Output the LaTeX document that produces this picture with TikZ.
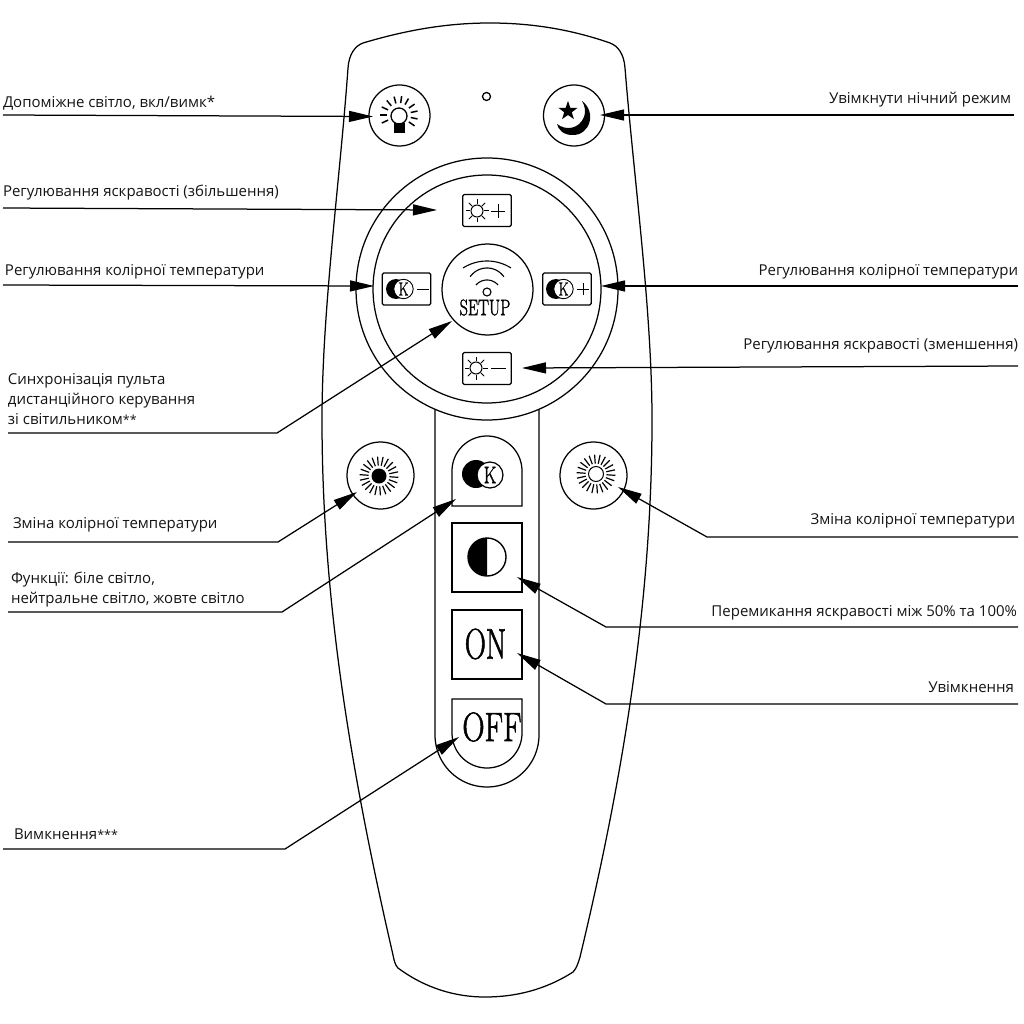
\documentclass[tikz,border=0pt]{standalone}
\usepackage{fontspec}
\setmainfont{Open Sans}
\newfontfamily\btnfont[RawFeature={embolden=1.6}]{Latin Modern Roman}
\usetikzlibrary{arrows.meta}
\tikzset{
  ln/.style={line width=1.25pt,black},
  lbl/.style={font=\fontsize{15}{18}\selectfont,inner sep=0pt,outer sep=0pt,text=black!92},
  lw/.style={lbl,anchor=base west},
  le/.style={lbl,anchor=base east},
  ring/.style={circle,draw,ln,fill=white,inner sep=0pt,outer sep=0pt,minimum size=#1},
  kbox/.style={rectangle,draw,ln,fill=white,rounded corners=1.5pt,inner sep=0pt,outer sep=0pt,minimum width=48.5pt,minimum height=32pt},
  sqbox/.style={rectangle,draw,ln,fill=white,inner sep=0pt,outer sep=0pt,minimum width=70pt,minimum height=69pt},
  arrowline/.style={ln,-{Triangle[length=24pt,width=11pt]}},
  btxt/.style={font=\btnfont,inner sep=0pt,outer sep=0pt},
  icon/.style={line width=1pt,black}
}
\newcommand{\SunIcon}[2]{%
  \draw[icon,fill=white] (#1,#2) circle (6);
  \foreach \a in {0,45,...,315}
    \draw[icon] ({#1+7*cos(\a)},{#2+7*sin(\a)}) -- ({#1+11.5*cos(\a)},{#2+11.5*sin(\a)});
}
\newcommand{\KIcon}[3]{% disc x, ring x, y
  \fill[black] (#1,#3) circle (10);
  \draw[line width=.9pt,fill=white] (#2,#3) circle (9.7);
  \node[btxt,font=\btnfont\fontsize{19}{19}\selectfont,xscale=.72] at (#2,#3) {K};
}
\newcommand{\smallstars}[1]{{\fontsize{12.5}{14}\selectfont #1}}
\begin{document}
\begin{tikzpicture}[x=1pt,y=-1pt]
\useasboundingbox (0,0) rectangle (1024,1024);
% body
\draw[ln,fill=white] (348,68) .. controls (349,54) and (355,46) .. (363,43)
  .. controls (410,29) and (450,23) .. (490,23)
  .. controls (530,23) and (570,29) .. (610,43)
  .. controls (618,46) and (624,54) .. (625,68)
  .. controls (634,180) and (652,310) .. (652,420)
  .. controls (652,610) and (620,790) .. (580,957)
  .. controls (578,964) and (576,969) .. (573,972)
  .. controls (545,990) and (515,997) .. (485,997)
  .. controls (455,997) and (425,988) .. (398,968)
  .. controls (395,965) and (394,960) .. (393,955)
  .. controls (355,790) and (322,610) .. (322,420)
  .. controls (322,310) and (340,180) .. (348,68) -- cycle;
% panel
\draw[ln,fill=white] (435,400) -- (435,735) -- plot[domain=180:0,samples=50] ({487+52*cos(\x)},{735+52*sin(\x)}) -- (539,400);
% main rings
\node[ring=262pt] (outer) at (487,289) {};
\node[ring=228pt] (inner) at (487,289) {};
\node[ring=91pt] (setup) at (487.5,289.5) {};
\node[ring=61pt] (aux) at (399.5,115.5) {};
\node[ring=61pt] (night) at (574,115.5) {};
\node[ring=8pt] (dot) at (486.5,96.5) {};
\node[ring=67pt] (sunL) at (380.5,475.5) {};
\node[ring=67pt] (sunR) at (593.5,475.5) {};
% aux icon
\foreach \a in {-205,-180,-155,-130,-105,-82,-60,-35,-12,12,35}
  \draw[line width=1.5pt] ({399+12*cos(\a)},{115+12*sin(\a)}) -- ({399+19*cos(\a)},{115+19*sin(\a)});
\draw[line width=1.3pt] (399,116) circle (8);
\fill (394,123) rectangle (405,133);
% night icon
\fill ({568+10*cos(-90)},{111+10*sin(-90)})
  \foreach \a in {-54,-18,18,54,90,126,162,198,234} {
    -- ({568+(mod(\a+90,72)==0 ? 10 : 4)*cos(\a)},{111+(mod(\a+90,72)==0 ? 10 : 4)*sin(\a)})
  } -- cycle;
\fill (582,101) .. controls (597,112) and (590,136) .. (572,135)
  .. controls (563,135) and (558,129) .. (557,124)
  .. controls (566,131) and (579,129) .. (584,117)
  .. controls (586,112) and (585,106) .. (582,101) -- cycle;
% setup icon
\draw[line width=1.1pt] plot[domain=-122.5:-57.5,samples=30] ({487+44.6*cos(\x)},{305.6+44.6*sin(\x)});
\draw[line width=1.1pt] plot[domain=-145:-35,samples=30] ({487+20.6*cos(\x)},{288.6+20.6*sin(\x)});
\draw[line width=1.1pt] plot[domain=-139:-41,samples=30] ({487+14.6*cos(\x)},{294.6+14.6*sin(\x)});
\draw[line width=1.1pt] (487,292) circle (4);
\node[btxt,font=\btnfont\fontsize{22.5}{22}\selectfont,xscale=.72] (setuptxt) at (485,307.5) {SETUP};
% small boxes
\node[kbox] (bup) at (487,210.5) {};
\node[kbox] (bdn) at (487,368.5) {};
\node[kbox] (kmin) at (406.5,289) {};
\node[kbox] (kpls) at (567,289) {};
\SunIcon{477}{211}
\draw[line width=.9pt] (491,211) -- (505,211) (498,204) -- (498,218);
\SunIcon{476}{368}
\draw[line width=.9pt] (491,368) -- (506,368);
\KIcon{396}{403.5}{289}
\draw[line width=.9pt] (417,289) -- (429,289);
\KIcon{556}{563.5}{289}
\draw[line width=.9pt] (577,289) -- (589,289) (583,283) -- (583,295);
% sun dials
\foreach \i in {1,...,22}
  \draw[line width=1.2pt] ({379+10.5*cos(\i*360/22+4)},{476+10.5*sin(\i*360/22+4)}) -- ({379+19.5*cos(\i*360/22+4)},{476+19.5*sin(\i*360/22+4)});
\fill (379,476) circle (7.5);
\foreach \i in {1,...,22}
  \draw[line width=1.2pt] ({596+10.5*cos(\i*360/22+4)},{474+10.5*sin(\i*360/22+4)}) -- ({596+19.5*cos(\i*360/22+4)},{474+19.5*sin(\i*360/22+4)});
\draw[line width=1pt] (596,474) circle (7.5);
% K button
\draw[ln,fill=white] (452,506) -- (452,471) -- plot[domain=180:360,samples=50] ({487+35*cos(\x)},{471+35*sin(\x)}) -- (522,506) -- cycle;
\fill (476,474) circle (14);
\draw[line width=1.2pt,fill=white] (490,475) circle (13);
\node[btxt,font=\btnfont\fontsize{24}{24}\selectfont,xscale=.72] (ktxt) at (490,475) {K};
% half button
\node[sqbox] (half) at (487,557.5) {};
\draw[line width=1.4pt,fill=white] (487,557) circle (19);
\fill plot[domain=90:270,samples=40] ({487+19*cos(\x)},{557+19*sin(\x)}) -- cycle;
% ON
\node[sqbox] (on) at (487,644.5) {};
\node[btxt,font=\btnfont\fontsize{43}{43}\selectfont,xscale=.68] (ontxt) at (485.5,644) {ON};
% OFF
\draw[ln,fill=white] (452,699) -- (522,699) -- (522,733) -- plot[domain=0:180,samples=50] ({487+35*cos(\x)},{733+35*sin(\x)}) -- cycle;
\node[btxt,font=\btnfont\fontsize{41}{41}\selectfont,xscale=.75] (offtxt) at (492,727) {OFF};
% connector coordinates
\coordinate (a1s) at (3,115); \coordinate (a1t) at (373,116.5);
\coordinate (a2s) at (1014,115); \coordinate (a2t) at (600,115);
\coordinate (a3s) at (3,208); \coordinate (a3t) at (437,210);
\coordinate (a4s) at (3,285); \coordinate (a4t) at (374,286);
\coordinate (a5s) at (1018,286); \coordinate (a5t) at (601,286);
\coordinate (a6s) at (1018,366); \coordinate (a6t) at (522,368);
\coordinate (a7s) at (8,433); \coordinate (a7e) at (277,433); \coordinate (a7t) at (452,321);
\coordinate (a8s) at (8,542); \coordinate (a8e) at (278,542); \coordinate (a8t) at (357,492);
\coordinate (a9s) at (8,612); \coordinate (a9e) at (282,612); \coordinate (a9t) at (456,499);
\coordinate (a10s) at (3,849); \coordinate (a10e) at (285,849); \coordinate (a10t) at (459,737);
\coordinate (a11s) at (1018,537); \coordinate (a11e) at (707,537); \coordinate (a11t) at (618,487);
\coordinate (a12s) at (1018,627); \coordinate (a12e) at (606,627); \coordinate (a12t) at (517,577);
\coordinate (a13s) at (1018,704); \coordinate (a13e) at (606,704); \coordinate (a13t) at (517,653);
% connectors
\draw[arrowline] (a1s) -- (a1t);
\draw[arrowline] (a2s) -- (a2t);
\draw[arrowline] (a3s) -- (a3t);
\draw[arrowline] (a4s) -- (a4t);
\draw[arrowline] (a5s) -- (a5t);
\draw[arrowline] (a6s) -- (a6t);
\draw[arrowline] (a7s) -- (a7e) -- (a7t);
\draw[arrowline] (a8s) -- (a8e) -- (a8t);
\draw[arrowline] (a9s) -- (a9e) -- (a9t);
\draw[arrowline] (a10s) -- (a10e) -- (a10t);
\draw[arrowline] (a11s) -- (a11e) -- (a11t);
\draw[arrowline] (a12s) -- (a12e) -- (a12t);
\draw[arrowline] (a13s) -- (a13e) -- (a13t);
% labels
\node[lw] (t1) at (3,108) {Допоміжне світло, вкл/вимк*};
\node[le] (t2) at (1011,104) {Увімкнути нічний режим};
\node[lw] (t3) at (3,197) {Регулювання яскравості (збільшення)};
\node[lw] (t4) at (5,275) {Регулювання колірної температури};
\node[le] (t5) at (1018,275) {Регулювання колірної температури};
\node[le] (t6) at (1018,349) {Регулювання яскравості (зменшення)};
\node[lw] (t7a) at (8,384) {Синхронізація пульта};
\node[lw] (t7b) at (8,404) {дистанційного керування};
\node[lw] (t7c) at (8,424) {зі світильником\smallstars{**}};
\node[lw] (t8) at (13,528) {Зміна колірної температури};
\node[lw] (t9a) at (11,583) {Функції: біле світло,};
\node[lw] (t9b) at (11,603) {нейтральне світло, жовте світло};
\node[lw] (t10) at (14,839) {Вимкнення\smallstars{***}};
\node[le] (t11) at (1015,524) {Зміна колірної температури};
\node[le] (t12) at (1017,616) {Перемикання яскравості між 50\% та 100\%};
\node[le] (t13) at (1014,692) {Увімкнення};
\end{tikzpicture}
\end{document}
